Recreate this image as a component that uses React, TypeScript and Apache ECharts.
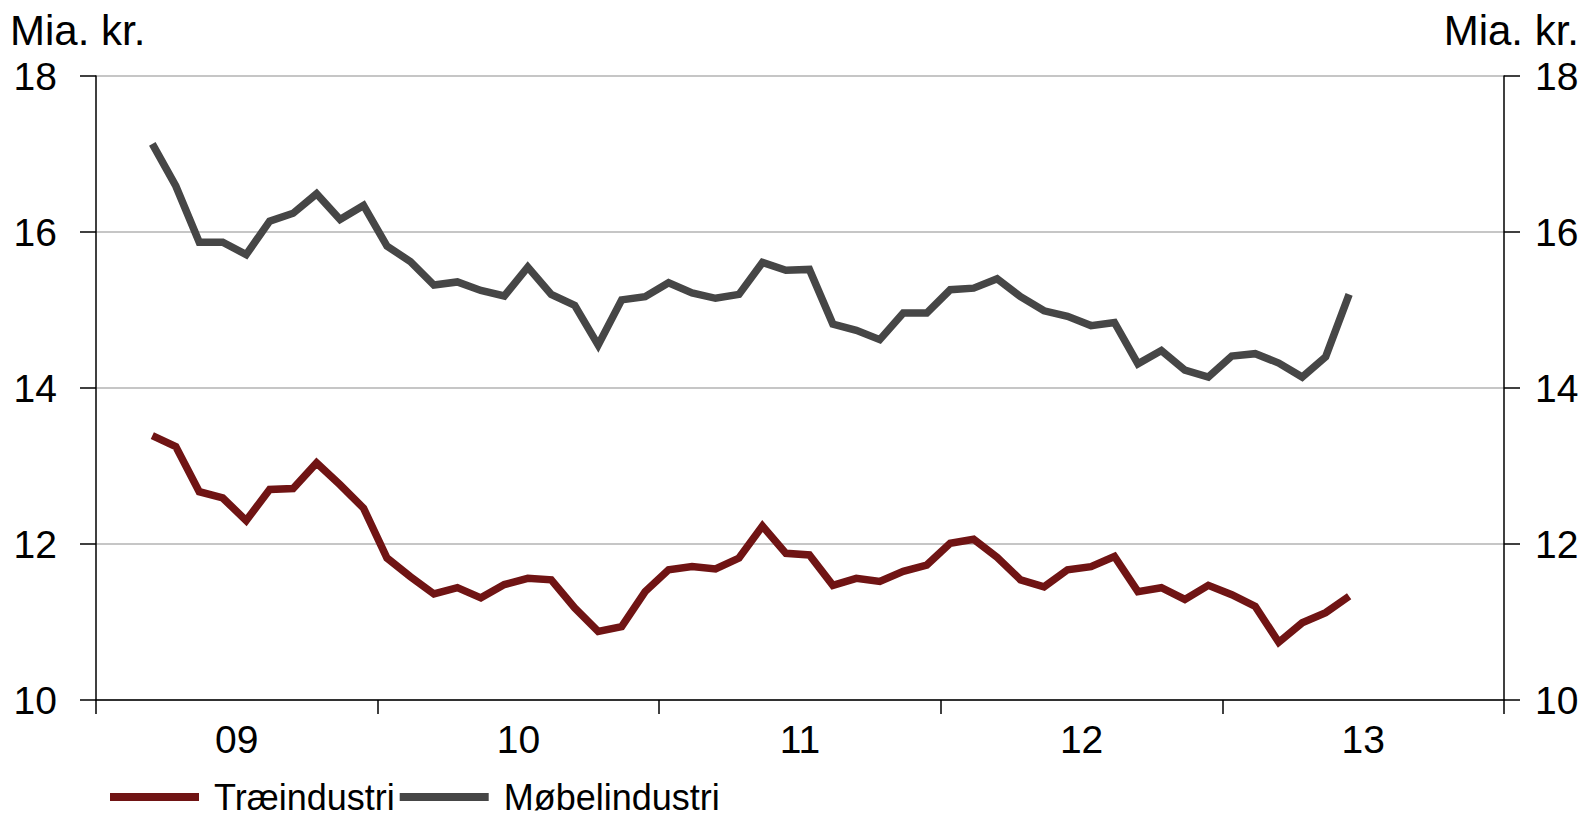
import React, { useEffect, useRef } from "react";
import * as echarts from "echarts";

// Monthly observations, March 2009 – June 2013
const START_MONTH = 3; // March 2009
const YEAR_LABELS = ["09", "10", "11", "12", "13"];
const Y_TICKS = [10, 12, 14, 16, 18];

const traeindustri = [
  13.39, 13.25, 12.67, 12.59, 12.3, 12.7, 12.71, 13.04, 12.76, 12.46,
  11.82, 11.58, 11.36, 11.44, 11.31, 11.48, 11.56, 11.54, 11.18, 10.88,
  10.94, 11.39, 11.67, 11.71, 11.68, 11.82, 12.23, 11.88, 11.86, 11.47,
  11.56, 11.52, 11.65, 11.73, 12.01, 12.06, 11.83, 11.54, 11.45, 11.67,
  11.71, 11.84, 11.39, 11.44, 11.29, 11.47, 11.35, 11.2, 10.74, 10.99,
  11.12, 11.33,
];

const moebelindustri = [
  17.13, 16.59, 15.87, 15.87, 15.71, 16.14, 16.24, 16.49, 16.16, 16.34,
  15.82, 15.62, 15.32, 15.36, 15.25, 15.18, 15.55, 15.2, 15.06, 14.55,
  15.13, 15.17, 15.35, 15.22, 15.15, 15.2, 15.61, 15.51, 15.52, 14.82,
  14.74, 14.62, 14.96, 14.96, 15.26, 15.28, 15.4, 15.17, 14.99, 14.92,
  14.8, 14.84, 14.31, 14.48, 14.23, 14.14, 14.41, 14.44, 14.32, 14.14,
  14.4, 15.2,
];

// position of a monthly observation on the month axis (months since Jan 2009)
const monthPos = (i: number) => START_MONTH - 1 + i + 0.4;

const FONT = "'Liberation Sans', Arial, sans-serif";
const RED = "#701414";
const GRAY = "#464646";

export default function App() {
  const ref = useRef<HTMLDivElement>(null);

  useEffect(() => {
    if (!ref.current) return;
    const chart = echarts.init(ref.current, undefined, { renderer: "svg" });
    const nYears = YEAR_LABELS.length;
    const yearTicks = Array.from({ length: nYears + 1 }, (_, k) => k * 12);
    const yearMids = Array.from({ length: nYears }, (_, k) => k * 12 + 6);

    const yAxisCommon = {
      type: "value" as const,
      min: Y_TICKS[0],
      max: Y_TICKS[Y_TICKS.length - 1],
      interval: 2,
      axisLine: { show: true, lineStyle: { color: "#000", width: 1.5 } },
      axisTick: { show: true, length: 16, lineStyle: { color: "#000", width: 1.5 } },
    };

    chart.setOption({
      animation: false,
      backgroundColor: "#fff",
      textStyle: { fontFamily: FONT },
      grid: { left: 96, right: 81, top: 76, bottom: 118 },
      graphic: [
        {
          type: "text",
          left: 10,
          top: 9,
          style: { text: "Mia. kr.", fontSize: 42, fontFamily: FONT, fill: "#000" },
        },
        {
          type: "text",
          right: 6,
          top: 9,
          style: { text: "Mia. kr.", fontSize: 42, fontFamily: FONT, fill: "#000" },
        },
      ],
      legend: {
        left: 110,
        top: 779,
        padding: 0,
        icon: "rect",
        itemWidth: 89,
        itemHeight: 8,
        itemGap: 5,
        textStyle: {
          fontSize: 36,
          lineHeight: 30,
          fontFamily: FONT,
          color: "#000",
          padding: [0, 0, 0, 10],
        },
        data: ["Træindustri", "Møbelindustri"],
      },
      xAxis: {
        type: "value",
        min: 0,
        max: nYears * 12,
        interval: 12,
        axisLine: { show: true, onZero: false, lineStyle: { color: "#000", width: 1.5 } },
        axisTick: {
          show: true,
          length: 14,
          customValues: yearTicks,
          lineStyle: { color: "#000", width: 1.5 },
        },
        axisLabel: {
          customValues: yearMids,
          formatter: (v: number) => YEAR_LABELS[Math.floor(v / 12)] ?? "",
          fontSize: 39,
          fontFamily: FONT,
          color: "#000",
          margin: 20,
        },
        splitLine: { show: false },
      },
      yAxis: [
        {
          ...yAxisCommon,
          position: "left",
          axisLabel: { fontSize: 39, fontFamily: FONT, color: "#000", margin: 39 },
          splitLine: { show: true, lineStyle: { color: "#c6c6c6", width: 2 } },
        },
        {
          ...yAxisCommon,
          position: "right",
          axisLabel: { fontSize: 39, fontFamily: FONT, color: "#000", margin: 31 },
          splitLine: { show: false },
        },
      ],
      series: [
        {
          name: "Træindustri",
          type: "line",
          yAxisIndex: 0,
          data: traeindustri.map((v, i) => [monthPos(i), v]),
          symbol: "none",
          color: RED,
          lineStyle: { color: RED, width: 7.5, join: "miter", cap: "butt" },
          z: 3,
        },
        {
          name: "Møbelindustri",
          type: "line",
          yAxisIndex: 0,
          data: moebelindustri.map((v, i) => [monthPos(i), v]),
          symbol: "none",
          color: GRAY,
          lineStyle: { color: GRAY, width: 7.5, join: "miter", cap: "butt" },
          z: 3,
        },
      ],
    });
    return () => chart.dispose();
  }, []);

  return (
    <div
      ref={ref}
      style={{ position: "fixed", left: 0, top: 0, width: 1585, height: 818, background: "#fff" }}
    />
  );
}
